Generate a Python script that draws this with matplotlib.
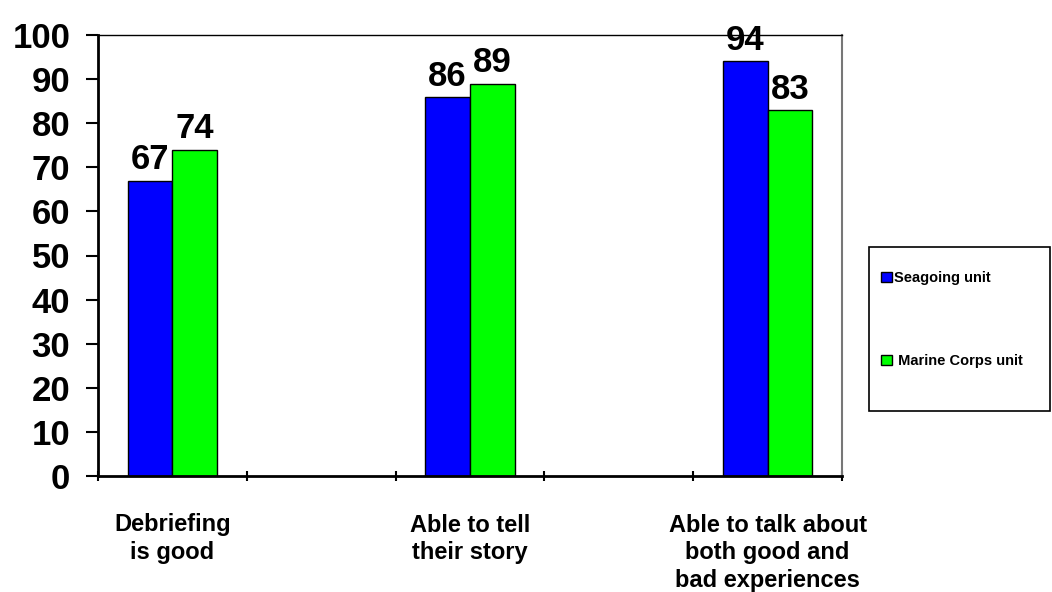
import matplotlib
matplotlib.use("Agg")
import matplotlib.pyplot as plt
from matplotlib.patches import Rectangle, Patch
import numpy as np

categories = ["Debriefing\nis good", "Able to tell\ntheir story", "Able to talk about\nboth good and\nbad experiences"]
series_names = ["Seagoing unit", " Marine Corps unit"]
seagoing = [67, 86, 94]
marine = [74, 89, 83]
yticks = list(range(0, 101, 10))

plt.rcParams['font.family'] = ['Liberation Sans', 'DejaVu Sans']

fig = plt.figure(figsize=(10.52, 5.92), dpi=100)
ax = fig.add_axes([98/1052, 116/592, 744/1052, 441/592])

pos = np.arange(len(categories)) * 2
w = 0.3
b1 = ax.bar(pos - w/2, seagoing, w, color="#0000FF", edgecolor="black", linewidth=1)
b2 = ax.bar(pos + w/2, marine, w, color="#00FF00", edgecolor="black", linewidth=1)

for bars, vals in ((b1, seagoing), (b2, marine)):
    for r, v in zip(bars, vals):
        ax.annotate(str(v), (r.get_x() + r.get_width()/2, v), xytext=(0, 3),
                    textcoords="offset points", ha="center", va="bottom",
                    fontsize=25, fontweight="bold", annotation_clip=False)

ax.set_xlim(-0.5, 4.5)
ax.set_ylim(0, 100)
ax.set_yticks(yticks)
ax.set_yticklabels([str(t) for t in yticks], fontsize=25, fontweight="bold")
ax.tick_params(axis="y", length=9, width=1.5, pad=11)

ax.set_xticks(np.arange(-0.5, 4.6, 1.0))
ax.set_xticklabels([])
ax.tick_params(axis="x", which="major", length=7, width=1.5, direction="inout")
ax.set_xticks(pos, minor=True)
ax.set_xticklabels(categories, minor=True, fontsize=17, fontweight="bold", linespacing=1.27)
ax.tick_params(axis="x", which="minor", length=0, pad=27)
for lbl in ax.get_xticklabels(minor=True):
    lbl.set_verticalalignment("top")

ax.spines["left"].set_linewidth(2)
ax.spines["bottom"].set_linewidth(2)
ax.spines["top"].set_linewidth(1)
ax.spines["top"].set_color("black")
ax.spines["right"].set_linewidth(1.5)
ax.spines["right"].set_color("#777777")

# legend frame
fig.patches.append(Rectangle((869/1052, 1 - 411/592), 181/1052, 164/592,
                             transform=fig.transFigure, fill=False,
                             edgecolor="black", linewidth=1.2))
handles = [Patch(facecolor="#0000FF", edgecolor="black"),
           Patch(facecolor="#00FF00", edgecolor="black")]
fig.legend(handles, series_names, loc="upper left",
           bbox_to_anchor=(874/1052, 1 - 264/592), frameon=False,
           prop={"size": 10.5, "weight": "bold"}, labelspacing=4.7,
           handlelength=0.7, handleheight=0.7, handletextpad=0.15, borderpad=0)

fig.savefig("out.png", dpi=100)
